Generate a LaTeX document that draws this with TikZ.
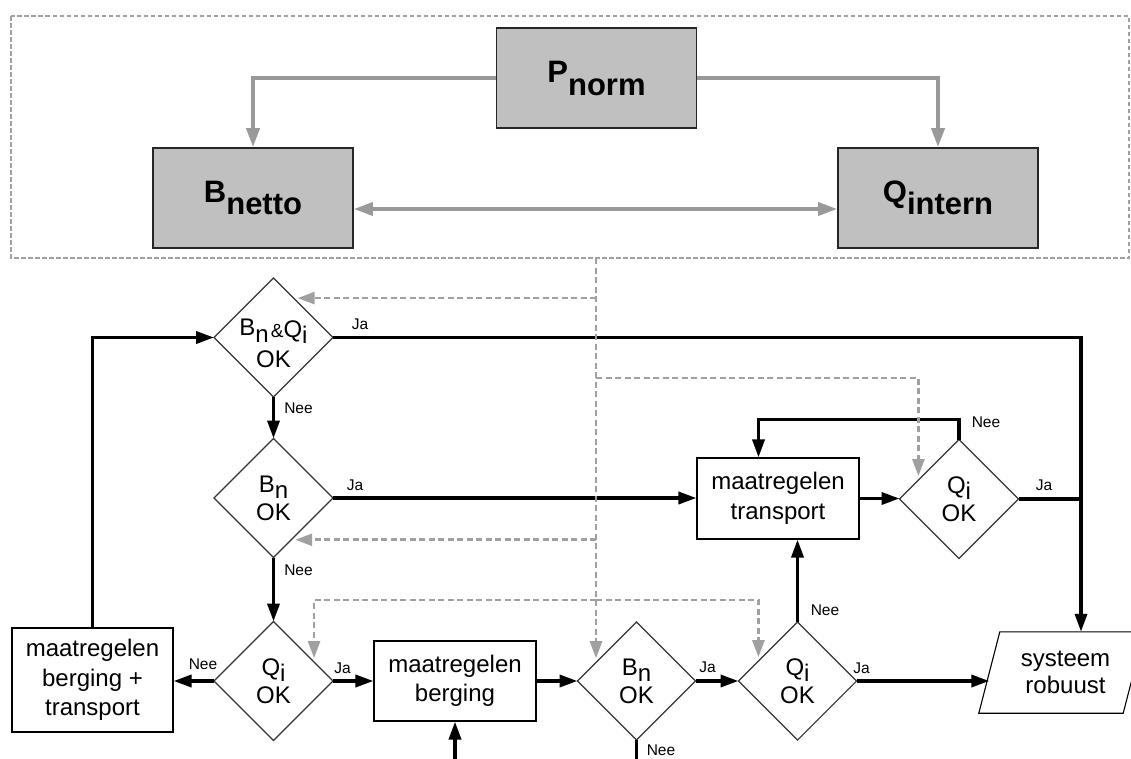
\documentclass[tikz,border=0pt]{standalone}
\usepackage{fontspec}
\setmainfont{Liberation Sans}
\usetikzlibrary{shapes.geometric,arrows.meta,calc}
\definecolor{boxgray}{HTML}{C0C0C0}
\definecolor{agray}{HTML}{999999}
\definecolor{dgray}{HTML}{A0A0A0}
\newcommand\lowr[2]{\raisebox{-#1pt}{#2}}
\begin{document}
\begin{tikzpicture}[x=1pt,y=-1pt,
  topbox/.style={draw=black!85, line width=1.8pt, fill=boxgray, minimum width=200pt, minimum height=100pt, inner sep=0pt, font=\fontsize{31}{34}\selectfont\bfseries},
  wbox/.style={draw=black, line width=1.1pt, fill=white, inner sep=0pt, align=center, font=\fontsize{24}{29.5}\selectfont},
  dia/.style={diamond, draw=black!80, line width=1.1pt, minimum width=#1, minimum height=#1, inner sep=0pt, outer sep=0pt, aspect=1},
  dia/.default=119pt,
  dtxt/.style={align=center, inner sep=0pt, font=\fontsize{24}{28}\selectfont},
  bline/.style={line width=3.5pt, black},
  barr/.style={bline, -{Triangle[length=18pt,width=12pt]}},
  garr/.style={line width=4pt, agray, -{Triangle[length=19pt,width=13pt]}},
  garrr/.style={line width=3.5pt, agray, {Triangle[length=19pt,width=13pt]}-{Triangle[length=19pt,width=13pt]}},
  gdash/.style={line width=2.6pt, dgray, dash pattern=on 6pt off 3.5pt},
  gdarr/.style={gdash, -{Triangle[length=17pt,width=12pt]}, shorten >=4pt},
  framedash/.style={line width=2.6pt, dgray, dash pattern=on 4.5pt off 2.5pt},
  lbl/.style={inner sep=0pt, font=\fontsize{15.5}{17}\selectfont}
]
\useasboundingbox (0,0) rectangle (1131,758);

% top frame
\draw[framedash] (11,16) rectangle (1129,258);

\node[topbox] (P) at (596.5,78) {P\lowr{13}{norm}};
\node[topbox] (B) at (253,198) {B\lowr{12}{netto}};
\node[topbox] (Q) at (938,198) {Q\lowr{12}{intern}};
\draw[garr] (P.west) -| (B.north);
\draw[garr] (P.east) -| (Q.north);
\draw[garrr] ([yshift=-11pt]B.east) -- ([yshift=-11pt]Q.west);

% diamonds
\node[dia, label={[dtxt,yshift=-6pt]center:{B\lowr{7}{n}\hspace{2pt}{\fontsize{19}{19}\selectfont\lowr{2}{\&}}\lowr{2}{Q}\lowr{8}{i}\\[4pt]OK}}] (d1) at (273.5,337.5) {};
\node[dia, label={[dtxt]center:{B\lowr{6}{n}\\OK}}] (d2) at (273.5,498) {};
\node[dia, label={[dtxt]center:{Q\lowr{6}{i}\\OK}}] (d3) at (273.5,681) {};
\node[dia=118pt, label={[dtxt]center:{B\lowr{6}{n}\\OK}}] (d4) at (636.5,681) {};
\node[dia=118pt, label={[dtxt]center:{Q\lowr{6}{i}\\OK}}] (d5) at (797.5,681) {};
\node[dia, label={[dtxt]center:{Q\lowr{6}{i}\\OK}}] (d6) at (959,499) {};

% boxes
\node[wbox, minimum width=161pt, minimum height=104pt] (mbt) at (92.5,680) {maatregelen\\berging +\\transport};
\node[wbox, minimum width=162pt, minimum height=80pt] (mb) at (455,681) {maatregelen\\berging};
\node[wbox, minimum width=162pt, minimum height=81pt] (mt) at (778,498.5) {maatregelen\\transport};
\node[inner sep=0pt, minimum width=144pt, minimum height=81pt, align=center, font=\fontsize{24}{27}\selectfont] (sr) at (1061.5,672.5) {\hspace{8pt}systeem\\\hspace{8pt}robuust};
\draw[black, line width=1.1pt] ([xshift=-10.5pt]sr.south west) -- ([xshift=-10.5pt]sr.south east) -- ([xshift=10.5pt]sr.north east) -- ([xshift=10.5pt]sr.north west) -- cycle;

% junctions
\coordinate (gtop) at (596,258);
\coordinate (jr) at (1081,337.5);
\coordinate (g2) at (596,378);
\coordinate (g3) at (596,600);
\coordinate (bot1) at (455,762);
\coordinate (bot2) at (636.5,762);

% black connectors
\draw[barr] (d1.east) -- (jr) -- (jr |- sr.north);
\draw[bline] (d6.east) -- (d6.east -| jr);
\draw[barr] (d1.south) -- (d2.north);
\draw[barr] (d2.east) -- (d2.east -| mt.west);
\draw[barr] (mt.east) -- (mt.east -| d6.west);
\draw[barr] (d6.north) -- ++(0,-20) -| ([xshift=-19.5pt]mt.north);
\draw[barr] (d2.south) -- (d3.north);
\draw[barr] (d3.west) -- (d3.west -| mbt.east);
\draw[barr] (mbt.north) |- (d1.west);
\draw[barr] (d3.east) -- (d3.east -| mb.west);
\draw[barr] (bot1) -- (mb.south);
\draw[barr] (mb.east) -- (d4.west);
\draw[bline] (d4.south) -- (bot2);
\draw[barr] (d4.east) -- (d5.west);
\draw[barr] (d5.north) -- (d5.north |- mt.south);
\draw[barr] (d5.east) -- (d5.east -| sr.west);

% gray dashed connectors
\draw[gdarr] (gtop) -- (gtop |- d4.155);
\draw[gdarr] (d1.63 -| gtop) -- (d1.63);
\draw[gdarr] (g2) -| (d6.155);
\draw[gdarr] (d2.-67 -| gtop) -- (d2.-67);
\draw[gdarr] (g3) -| (d3.25);
\draw[gdarr] (g3) -| (d5.153);

% labels
\node[lbl] (ja1) at (360,324) {Ja};
\node[lbl] (nee1) at (298.5,408) {Nee};
\node[lbl] (ja2) at (355,485) {Ja};
\node[lbl] (nee2) at (298.5,570) {Nee};
\node[lbl] (nee6) at (986,422) {Nee};
\node[lbl] (ja6) at (1044,485) {Ja};
\node[lbl] (nee3) at (203,664) {Nee};
\node[lbl] (ja3) at (342.5,668) {Ja};
\node[lbl] (ja4) at (707.5,667) {Ja};
\node[lbl] (nee4) at (661,750) {Nee};
\node[lbl] (ja5) at (861.5,668) {Ja};
\node[lbl] (nee5) at (825,610) {Nee};
\end{tikzpicture}
\end{document}
